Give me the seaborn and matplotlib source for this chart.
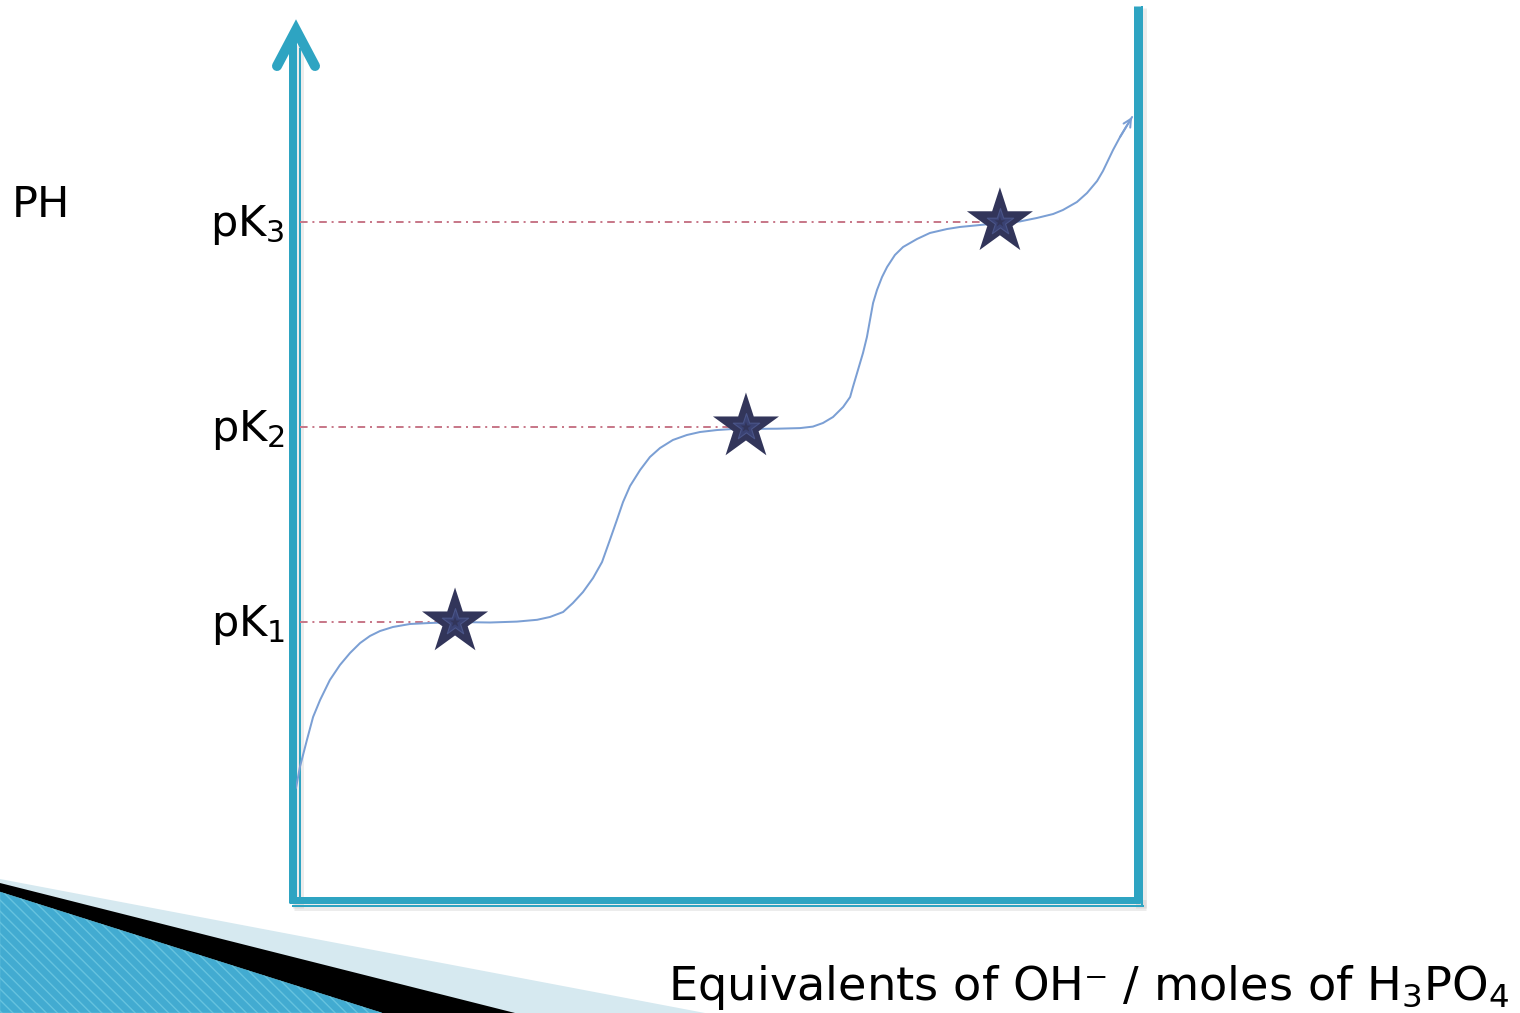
import matplotlib
matplotlib.use("Agg")
import matplotlib.pyplot as plt
from matplotlib.patches import Polygon
import seaborn as sns

# titration curve of H3PO4 (schematic)
equiv = [0.000, 0.014, 0.039, 0.061, 0.086, 0.121, 0.157, 0.193, 0.229, 0.264,
         0.300, 0.346, 0.407, 0.479, 0.575, 0.693, 0.789, 0.861, 0.907, 0.954,
         0.989, 1.025, 1.061, 1.093, 1.121, 1.146, 1.168, 1.193, 1.229, 1.264,
         1.300, 1.346, 1.396, 1.443, 1.504, 1.561, 1.718, 1.800, 1.846, 1.882,
         1.918, 1.954, 1.979, 1.989, 2.007, 2.025, 2.039, 2.050, 2.061, 2.075,
         2.093, 2.111, 2.139, 2.168, 2.218, 2.264, 2.325, 2.371, 2.443, 2.514,
         2.586, 2.646, 2.704, 2.739, 2.789, 2.825, 2.861, 2.882, 2.918, 2.943,
         2.986]
ph = [1.867, 2.217, 2.667, 3.050, 3.333, 3.667, 3.917, 4.117, 4.283, 4.400,
      4.483, 4.550, 4.600, 4.617, 4.633, 4.625, 4.640, 4.670, 4.717, 4.800,
      4.950, 5.133, 5.367, 5.633, 6.000, 6.333, 6.633, 6.900, 7.167, 7.383,
      7.533, 7.667, 7.750, 7.800, 7.833, 7.850, 7.855, 7.865, 7.890, 7.950,
      8.050, 8.217, 8.383, 8.550, 8.833, 9.117, 9.383, 9.667, 9.950, 10.167,
      10.383, 10.550, 10.750, 10.883, 11.017, 11.117, 11.183, 11.217, 11.250, 11.283,
      11.310, 11.367, 11.433, 11.500, 11.633, 11.783, 11.983, 12.150, 12.500, 12.717,
      13.050]

pk_labels = [r'pK$_1$', r'pK$_2$', r'pK$_3$']
pk_values = [4.63, 7.88, 11.30]
half_equiv = [0.568, 1.607, 2.514]

teal = '#2ea4c2'
curve_col = '#7b9fd4'
star_col = '#32355a'
dash_col = '#c8798a'

sns.set_theme(style='white')
plt.rcParams['font.family'] = ['DejaVu Sans']
plt.rcParams['mathtext.fontset'] = 'dejavusans'

W, H = 1520, 1013
fig = plt.figure(figsize=(W / 100, H / 100), dpi=100)
fig.patch.set_facecolor('white')

# background layer in pixel units for the slide decoration and the frame
deco = fig.add_axes([0, 0, 1, 1], zorder=0)
deco.set_xlim(0, W)
deco.set_ylim(H, 0)
deco.axis('off')

px = 0.72  # points per pixel

# slide corner ornament
deco.add_patch(Polygon([(0, 879), (705, H), (0, H)], closed=True, fc='#d6e9f0', ec='none'))
deco.add_patch(Polygon([(0, 883), (515, H), (0, H)], closed=True, fc='black', ec='none'))
deco.add_patch(Polygon([(0, 892), (382, H), (0, H)], closed=True, fc='#42abd1', ec='#66c3df',
                       lw=0.4, hatch='\\\\\\'))

# shadows of the frame
sh = dict(color='#9a9a9a', alpha=0.18, lw=11 * px, solid_capstyle='butt')
deco.plot([298, 298], [45, 908], **sh)
deco.plot([294, 1146], [905, 905], **sh)
deco.plot([1141, 1141], [8, 908], **sh)

# frame: double teal strokes
deco.plot([293, 293], [40, 903], color=teal, lw=8 * px, solid_capstyle='butt')
deco.plot([300.3, 300.3], [48, 903], color=teal, lw=2 * px, solid_capstyle='butt')
deco.plot([289, 1140], [899.5, 899.5], color=teal, lw=7 * px, solid_capstyle='butt')
deco.plot([292, 1143.5], [906, 906], color=teal, lw=2 * px, solid_capstyle='butt')
deco.plot([1136.5, 1136.5], [6, 903], color=teal, lw=7 * px, solid_capstyle='butt')
deco.plot([1142.3, 1142.3], [6, 907], color=teal, lw=2 * px, solid_capstyle='butt')
deco.plot([277, 296, 315], [66, 30, 66], color=teal, lw=10 * px,
          solid_capstyle='round', solid_joinstyle='miter')

# texts
deco.text(12, 217, 'PH', fontsize=31, ha='left', va='baseline', color='black')
deco.text(668, 1000, 'Equivalents of OH\u207b / moles of H$_3$PO$_4$', fontsize=33.4,
          ha='left', va='baseline', color='black')

# chart layer in data units
ax = fig.add_axes([296 / W, (H - 900) / H, 840 / W, 877 / H], zorder=1)
ax.patch.set_visible(False)
ax.set_xlim(0, 3.0)
ax.set_ylim(0, 877 / 60)
ax.axis('off')

ax.hlines(pk_values, 0.014, half_equiv, colors=dash_col, lw=2 * px,
          linestyles=[(0, (3.8, 2.4, 1.0, 2.4))], zorder=2)

sns.lineplot(x=equiv, y=ph, sort=False, estimator=None, color=curve_col,
             lw=2 * px, ax=ax, zorder=3)
ax.annotate('', xy=(equiv[-1], ph[-1]), xytext=(equiv[-2], ph[-2]),
            arrowprops=dict(arrowstyle='->', color=curve_col, lw=2 * px,
                            shrinkA=0, shrinkB=0, mutation_scale=14), zorder=3)

sns.scatterplot(x=half_equiv, y=pk_values, marker='*', s=50 ** 2, color=star_col,
                edgecolor='none', ax=ax, zorder=4, legend=False)
ax.scatter(half_equiv, pk_values, marker='*', s=20 ** 2, facecolor='#3a4273',
           edgecolor='#4a5589', lw=0.8, zorder=5)
ax.scatter(half_equiv, pk_values, marker='*', s=8 ** 2, facecolor=star_col,
           edgecolor='none', zorder=6)

for lab, pk in zip(pk_labels, pk_values):
    ax.annotate(lab, xy=(0, pk), xytext=(-8, -10), textcoords='offset points',
                ha='right', va='baseline', fontsize=31, color='black',
                annotation_clip=False)

fig.savefig('out.png', dpi=100)
